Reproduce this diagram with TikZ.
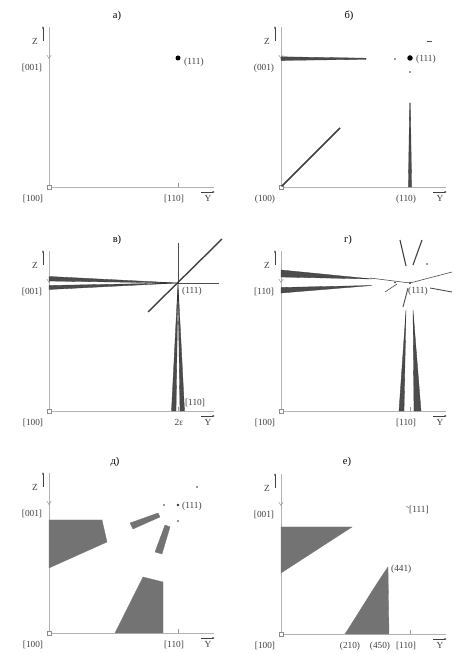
\documentclass[tikz,border=0pt]{standalone}
\usepackage{fontspec}
\setmainfont{Liberation Serif}
\usepackage{tikz}
\usetikzlibrary{arrows.meta,positioning,calc}

% axes of one stereographic panel, origin at (0,0), [110] and [001] at 129
\newcommand{\panelaxes}[4]{%
  \coordinate (#1O) at (0,0);
  \coordinate (#1Zend) at (0,160);
  \coordinate (#1Yend) at (165,0);
  \draw[axis] (#1O) -- (#1Zend);
  \draw[axis] (#1O) -- (#1Yend);
  \draw[tick] (-2.2,132) -- (0,128.5) -- (2.2,132);
  \draw[tick] (129,3.5) -- (129,0);
  \node[origin] (#1sq) at (#1O) {};
  \node[axislabel] (#1lz) at (-17,119) {#2};
  \node[axislabel] (#1lo) at (-16,-12) {#3};
  \node[axislabel] (#1ly) at (125,-12) {#4};
  \node[axislabel] (#1Z) at (-14,146) {Z};
  \coordinate (#1za) at (-6,146);
  \coordinate (#1zb) at (-6,161);
  \draw[axisarr] (#1za) -- (#1zb);
  \node[axislabel] (#1Y) at (159,-11) {Y};
  \coordinate (#1ya) at (152,-5);
  \coordinate (#1yb) at (166,-5);
  \draw[axisarr] (#1ya) -- (#1yb);
}

\begin{document}
\begin{tikzpicture}[
  x=1pt, y=1pt,
  font=\fontsize{9.3}{10}\selectfont,
  axis/.style={draw=black!30, line width=0.6pt},
  tick/.style={draw=black!40, line width=0.5pt},
  axisarr/.style={draw=black!75, line width=0.4pt, -{Latex[length=2.5pt,width=2pt]}},
  origin/.style={draw=black!45, fill=white, minimum size=3.6pt, inner sep=0pt, line width=0.5pt},
  axislabel/.style={inner sep=0pt, text=black!75},
  panellabel/.style={font=\fontsize{10.5}{11}\selectfont, inner sep=0pt},
  pole/.style={circle, fill=black, inner sep=0pt, minimum size=5pt},
  spot/.style={circle, fill=black!80, inner sep=0pt, minimum size=1.6pt},
  sliver/.style={fill=black!70, draw=black!80, line width=0.3pt},
  streak/.style={draw=black!75, line width=1.6pt},
  fine/.style={draw=black!70, line width=0.6pt},
  region/.style={fill=black!55, draw=black!55, line width=0.3pt}
]
\useasboundingbox (0,0) rectangle (464,654);

% =============================================================
% Panel a
% =============================================================
\begin{scope}[shift={(49,467)}]
  \panelaxes{pa}{[001]}{[100]}{[110]}
  \node[panellabel] (ta) at (68,171) {а)};
  \node[pole] (pa111) at (129,129) {};
  \node[axislabel, anchor=west] (pal) at (135,125) {(111)};
\end{scope}

% =============================================================
% Panel b
% =============================================================
\begin{scope}[shift={(281,467)}]
  \panelaxes{pb}{(001)}{(100)}{(110)}
  \node[panellabel] (tb) at (68,171) {б)};
  % slivers along the edges of the triangle
  \fill[sliver] (0,126.6) -- (85,127.6) -- (85,128.8) -- (0,130.2) -- cycle;
  \fill[sliver] (127.4,0) -- (128.6,84) -- (129.4,84) -- (130.6,0) -- cycle;
  \draw[streak] (0.5,0.5) -- (59,59);
  % spots round the pole
  \node[pole, minimum size=5.5pt] (pb111) at (129,129) {};
  \node[spot] (pbs1) at (114,128) {};
  \node[spot] (pbs2) at (129,115) {};
  \draw[fine] (146,146) -- (151,146);
  \node[axislabel, anchor=west] (pbl) at (135,128) {(111)};
\end{scope}

% =============================================================
% Panel v
% =============================================================
\begin{scope}[shift={(49,243)}]
  \panelaxes{pv}{[001]}{[100]}{}
  \node[panellabel] (tv) at (68,171) {в)};
  \coordinate (pvc) at (129,128);
  % wedges converging on (111)
  \filldraw[sliver] (0,130) -- (pvc) -- (0,134.5) -- cycle;
  \filldraw[sliver] (0,121.5) -- (pvc) -- (0,125.5) -- cycle;
  \filldraw[sliver] (122.5,0) -- (pvc) -- (127,0) -- cycle;
  \filldraw[sliver] (131,0) -- (pvc) -- (135.5,0) -- cycle;
  \draw[fine] (pvc) -- (170,128);
  \draw[fine] (129,168) -- (pvc);
  \draw[streak, line width=1.4pt] (99,99) -- (173,172);
  \node[spot, minimum size=2.4pt] (pv111) at (pvc) {};
  \node[axislabel, anchor=west] (pvl) at (133,120) {(111)};
  \node[axislabel] (pvly) at (146,8) {[110]};
  \node[axislabel] (pvle) at (130,-11) {2ε};
\end{scope}

% =============================================================
% Panel g
% =============================================================
\begin{scope}[shift={(281,243)}]
  \panelaxes{pg}{[110]}{[100]}{[110]}
  \node[panellabel] (tg) at (67,171) {г)};
  \coordinate (pgc) at (129,128);
  % horizontal wedges
  \filldraw[sliver] (0,134) -- (91,132) -- (0,141) -- cycle;
  \filldraw[sliver] (0,118) -- (91,125.5) -- (0,123.5) -- cycle;
  \draw[fine] (89,133) -- (pgc);
  \draw[fine] (104,119) -- (116,127);
  \node[spot] (pgs1) at (114,128.5) {};
  % streaks through the pole
  \draw[streak, line width=1.1pt] (119,171) -- (125,145);
  \draw[streak, line width=1.1pt] (141,171) -- (132,146);
  \draw[fine] (pgc) -- (171,139);
  \draw[fine, line width=0.9pt] (149,123) -- (171,119);
  \draw[fine, line width=0.9pt] (122,104) -- (127,123);
  \node[spot] (pgs2) at (146,147) {};
  % vertical wedges
  \filldraw[sliver] (118,0) -- (125,101) -- (123,0) -- cycle;
  \filldraw[sliver] (133,0) -- (132,101) -- (140,0) -- cycle;
  \node[spot, minimum size=2.4pt] (pg111) at (pgc) {};
  \node[axislabel, anchor=west] (pgl) at (127,120) {(111)};
\end{scope}

% =============================================================
% Panel d
% =============================================================
\begin{scope}[shift={(49,21)}]
  \panelaxes{pd}{[001]}{[100]}{[110]}
  \node[panellabel] (td) at (66,171) {д)};
  \fill[region] (0,113) -- (53,113) -- (58,91) -- (0,65) -- cycle;
  \fill[region] (66,0) -- (94,56) -- (114,51) -- (114,0) -- cycle;
  \fill[region] (81,110) -- (109,120) -- (111,116) -- (84,104) -- cycle;
  \fill[region] (106,81) -- (116,108) -- (121,106) -- (113,79) -- cycle;
  \node[spot, minimum size=2.6pt] (pd111) at (129,128) {};
  \node[spot] (pds1) at (115,128) {};
  \node[spot] (pds2) at (129,112) {};
  \node[spot] (pds3) at (148,146) {};
  \node[axislabel, anchor=west] (pdl) at (133,127) {(111)};
\end{scope}

% =============================================================
% Panel e
% =============================================================
\begin{scope}[shift={(281,20)}]
  \panelaxes{pe}{[001]}{[100]}{[110]}
  \node[panellabel] (te) at (66,172) {е)};
  \fill[region] (0,107) -- (71,107) -- (0,61) -- cycle;
  \fill[region] (64,0) .. controls (82,28) and (95,50) .. (107,67)
        -- (108,0) -- cycle;
  \draw[fine, line width=0.4pt] (125,128) -- (128,126);
  \node[axislabel, anchor=west] (pel1) at (128,124) {[111]};
  \node[axislabel, anchor=west] (pel2) at (110,65) {(441)};
  \node[axislabel] (pel3) at (69,-12) {(210)};
  \node[axislabel] (pel4) at (99,-12) {(450)};
\end{scope}
\end{tikzpicture}
\end{document}
